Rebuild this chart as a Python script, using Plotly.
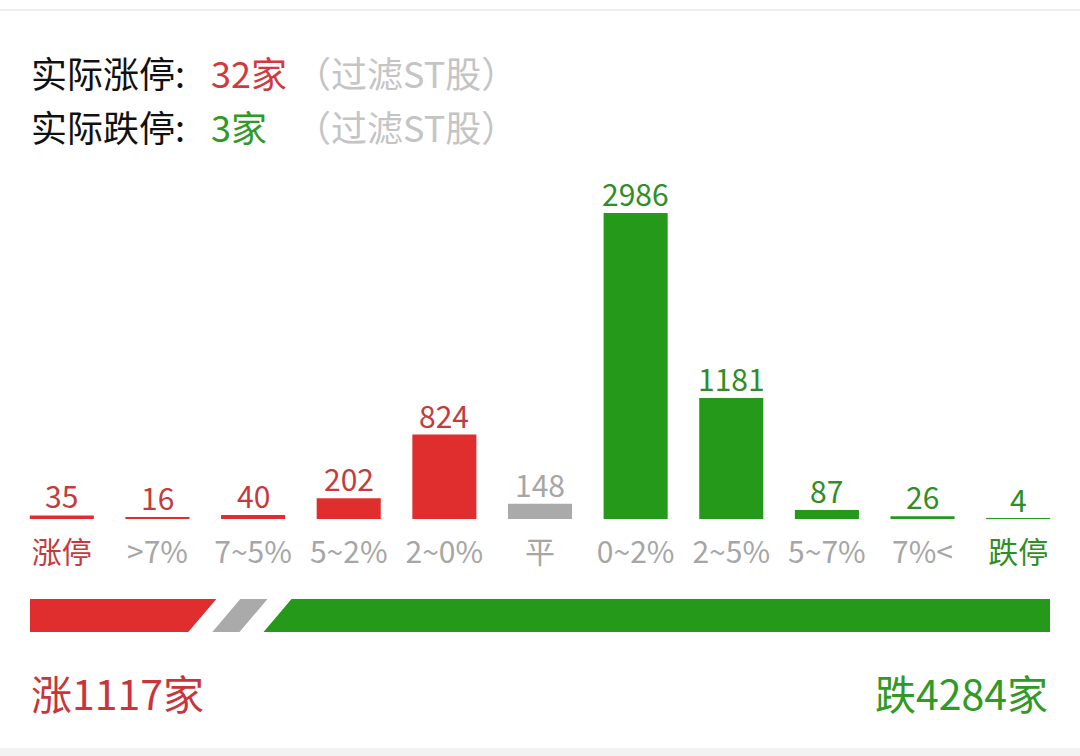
import plotly.graph_objects as go

# 涨跌分布 (家数)
categories = ["涨停", ">7%", "7~5%", "5~2%", "2~0%", "平", "0~2%", "2~5%", "5~7%", "7%<", "跌停"]
counts = [35, 16, 40, 202, 824, 148, 2986, 1181, 87, 26, 4]
sides = ["up", "up", "up", "up", "up", "flat", "down", "down", "down", "down", "down"]

real_limit_up = 32
real_limit_down = 3

total_up = sum(c for c, s in zip(counts, sides) if s == "up")
total_flat = sum(c for c, s in zip(counts, sides) if s == "flat")
total_down = sum(c for c, s in zip(counts, sides) if s == "down")
total = total_up + total_flat + total_down

W, H = 1080, 756
FONT = "Noto Sans CJK SC"

bar_color = {"up": "#e02e2e", "flat": "#aaaaaa", "down": "#24991a"}
text_color = {"up": "#c43b3e", "flat": "#a6a6a6", "down": "#2f8e25"}
gray_label = "#a6a6a6"

# 涨停/跌停 标签带颜色，其它灰色
tick_text = []
for i, cat in enumerate(categories):
    c = gray_label
    if i == 0:
        c = text_color["up"]
    if i == len(categories) - 1:
        c = text_color["down"]
    tick_text.append(f"<span style='color:{c}'>{cat}</span>")

fig = go.Figure()

fig.add_trace(go.Bar(
    x=categories,
    y=counts,
    marker=dict(color=[bar_color[s] for s in sides], line=dict(width=0)),
    hoverinfo="skip",
))

# 柱子上方的数值
for cat, c, s in zip(categories, counts, sides):
    fig.add_annotation(
        x=cat, y=c, text=str(c), showarrow=False,
        yanchor="middle", yshift=20,
        font=dict(family=FONT, size=30, color=text_color[s]),
    )

# 底部比例条
px_unit = total / 1020.0
gap = 24 * px_unit
shift = 9 * px_unit
slant = 14 * px_unit
b1 = total_up - shift
b2 = total_up + total_flat - shift

fig.add_trace(go.Scatter(
    x=[0, 0, b1 - gap + slant, b1 - gap - slant, 0],
    y=[0, 1, 1, 0, 0],
    fill="toself", fillcolor=bar_color["up"], line=dict(width=0),
    mode="lines", xaxis="x2", yaxis="y2", hoverinfo="skip",
))
fig.add_trace(go.Scatter(
    x=[b1 - slant, b1 + slant, b2 + slant, b2 - slant, b1 - slant],
    y=[0, 1, 1, 0, 0],
    fill="toself", fillcolor=bar_color["flat"], line=dict(width=0),
    mode="lines", xaxis="x2", yaxis="y2", hoverinfo="skip",
))
fig.add_trace(go.Scatter(
    x=[b2 + gap - slant, b2 + gap + slant, total, total, b2 + gap - slant],
    y=[0, 1, 1, 0, 0],
    fill="toself", fillcolor=bar_color["down"], line=dict(width=0),
    mode="lines", xaxis="x2", yaxis="y2", hoverinfo="skip",
))

# 标题文字
def ann(x, y, text, color, size, anchor="left"):
    fig.add_annotation(
        x=x / W, y=1 - y / H, xref="paper", yref="paper",
        text=text, showarrow=False, xanchor=anchor, yanchor="middle",
        font=dict(family=FONT, size=size, color=color),
    )

ann(29, 72, "实际涨停:", "#111111", 36)
ann(209, 72, f"{real_limit_up}家", "#d13a3c", 36)
ann(293, 72, "（过滤ST股）", "#c4c4c4", 36)
ann(29, 126, "实际跌停:", "#111111", 36)
ann(209, 126, f"{real_limit_down}家", "#2f9a25", 36)
ann(293, 126, "（过滤ST股）", "#c4c4c4", 36)

ann(29, 692, f"涨{total_up}家", "#c8353a", 41)
ann(1050, 692, f"跌{total_down}家", "#2f9a25", 41, anchor="right")

fig.update_layout(
    width=W, height=H,
    margin=dict(l=0, r=0, t=0, b=0),
    paper_bgcolor="white", plot_bgcolor="white",
    showlegend=False,
    bargap=0.33,
    xaxis=dict(
        domain=[14 / W, 1066 / W],
        tickmode="array", tickvals=categories, ticktext=tick_text,
        tickfont=dict(family=FONT, size=30),
        ticklabelstandoff=13,
        showgrid=False, showline=False, zeroline=False, fixedrange=True,
    ),
    yaxis=dict(
        domain=[1 - 519 / H, 1 - 160 / H],
        range=[0, 3503],
        visible=False, fixedrange=True,
    ),
    xaxis2=dict(domain=[30 / W, 1050 / W], range=[0, total], visible=False, fixedrange=True, anchor="y2"),
    yaxis2=dict(domain=[1 - 632 / H, 1 - 599 / H], range=[0, 1], visible=False, fixedrange=True, anchor="x2"),
    shapes=[
        dict(type="line", xref="paper", yref="paper", x0=0, x1=1, y0=1 - 10 / H, y1=1 - 10 / H,
             line=dict(color="#eeeeee", width=2)),
        dict(type="rect", xref="paper", yref="paper", x0=0, x1=1, y0=0, y1=8 / H,
             fillcolor="#f2f2f2", line=dict(width=0)),
    ],
)

fig.write_html("out.html", config={"displayModeBar": False},
               post_script="document.body.style.margin='0';")
